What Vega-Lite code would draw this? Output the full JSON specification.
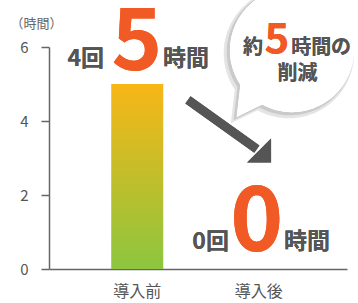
{
  "$schema": "https://vega.github.io/schema/vega-lite/v6.json",
  "width": 298,
  "height": 222,
  "autosize": {"type": "none"},
  "padding": {"left": 49, "top": 47, "right": 11, "bottom": 34},
  "background": "white",
  "config": {"view": {"stroke": null}, "font": "Noto Sans CJK JP"},
  "data": {"values": [{"period": "導入前", "hours": 5}, {"period": "導入後", "hours": 0}]},
  "layer": [
    {
      "mark": {"type": "bar", "color": {"gradient": "linear", "x1": 0, "y1": 0, "x2": 0, "y2": 1, "stops": [{"offset": 0, "color": "#F8B617"}, {"offset": 1, "color": "#8CC63F"}]}},
      "encoding": {
        "x": {"field": "period", "type": "nominal", "sort": null, "scale": {"paddingInner": 0.572, "paddingOuter": 0.512},
          "axis": {"title": null, "labelAngle": 0, "ticks": false, "domainColor": "#666", "domainWidth": 1.5, "labelColor": "#555", "labelFontSize": 16, "labelPadding": 14}},
        "y": {"field": "hours", "type": "quantitative", "scale": {"domain": [0, 6]},
          "axis": {"values": [0, 2, 4, 6], "title": "（時間）", "titleAngle": 0, "titleX": -13, "titleY": -24, "titleAlign": "center", "titleBaseline": "middle", "titleFontSize": 13, "titleFontWeight": "normal", "titleColor": "#666", "grid": false, "tickSize": 8, "tickColor": "#666", "tickWidth": 1.5, "domainColor": "#666", "domainWidth": 1.5, "labelFontSize": 15, "labelColor": "#555", "labelPadding": 13}}
      }
    },
    {
      "layer": [
        {
          "mark": {"type": "point", "shape": "M -0.48 0.88 L -0.89 1.08 L -0.83 0.56 A 1 1 0 1 1 -0.48 0.88 Z", "filled": true, "color": "#888", "opacity": 0.12, "size": 17000},
          "encoding": {"x": {"datum": 6.44, "type": "quantitative", "scale": {"domain": [0, 8]}, "axis": null}, "y": {"datum": 5.84, "type": "quantitative"}}
        },
        {
          "mark": {"type": "point", "shape": "M -0.48 0.88 L -0.89 1.08 L -0.83 0.56 A 1 1 0 1 1 -0.48 0.88 Z", "filled": true, "color": "#888", "opacity": 0.15, "size": 16000},
          "encoding": {"x": {"datum": 6.47, "type": "quantitative", "scale": {"domain": [0, 8]}, "axis": null}, "y": {"datum": 5.87, "type": "quantitative"}}
        },
        {
          "mark": {"type": "point", "shape": "M -0.48 0.88 L -0.89 1.08 L -0.83 0.56 A 1 1 0 1 1 -0.48 0.88 Z", "filled": true, "color": "white", "opacity": 1, "size": 15376},
          "encoding": {"x": {"datum": 6.52, "type": "quantitative", "scale": {"domain": [0, 8]}, "axis": null}, "y": {"datum": 5.92, "type": "quantitative"}}
        },
        {
          "mark": {"type": "rule", "color": "#555", "strokeWidth": 9, "strokeCap": "butt"},
          "encoding": {"x": {"datum": 3.73, "type": "quantitative", "scale": {"domain": [0, 8]}, "axis": null}, "x2": {"datum": 5.58}, "y": {"datum": 4.57, "type": "quantitative"}, "y2": {"datum": 3.24}}
        },
        {
          "mark": {"type": "point", "shape": "M 1 1 L -1 1 L 1 -1 Z", "filled": true, "color": "#555", "opacity": 1, "size": 576},
          "encoding": {"x": {"datum": 5.64, "type": "quantitative", "scale": {"domain": [0, 8]}, "axis": null}, "y": {"datum": 3.2, "type": "quantitative"}}
        },
        {
          "mark": {"type": "text", "text": "4回", "align": "right", "baseline": "alphabetic", "fontSize": 23, "fontWeight": "bold", "color": "#555"},
          "encoding": {"x": {"datum": 1.48, "type": "quantitative", "scale": {"domain": [0, 8]}, "axis": null}, "y": {"datum": 5.49, "type": "quantitative"}}
        },
        {
          "mark": {"type": "text", "text": "5", "align": "center", "baseline": "alphabetic", "fontSize": 86, "fontWeight": "bold", "color": "#F15A24"},
          "encoding": {"x": {"datum": 2.36, "type": "quantitative", "scale": {"domain": [0, 8]}, "axis": null}, "y": {"datum": 5.38, "type": "quantitative"}}
        },
        {
          "mark": {"type": "text", "text": "時間", "align": "left", "baseline": "alphabetic", "fontSize": 23, "fontWeight": "bold", "color": "#555"},
          "encoding": {"x": {"datum": 3.06, "type": "quantitative", "scale": {"domain": [0, 8]}, "axis": null}, "y": {"datum": 5.49, "type": "quantitative"}}
        },
        {
          "mark": {"type": "text", "text": "0回", "align": "right", "baseline": "alphabetic", "fontSize": 23, "fontWeight": "bold", "color": "#555"},
          "encoding": {"x": {"datum": 4.83, "type": "quantitative", "scale": {"domain": [0, 8]}, "axis": null}, "y": {"datum": 0.54, "type": "quantitative"}}
        },
        {
          "mark": {"type": "text", "text": "0", "align": "center", "baseline": "alphabetic", "fontSize": 90, "fontWeight": "bold", "color": "#F15A24"},
          "encoding": {"x": {"datum": 5.58, "type": "quantitative", "scale": {"domain": [0, 8]}, "axis": null}, "y": {"datum": 0.5, "type": "quantitative"}}
        },
        {
          "mark": {"type": "text", "text": "時間", "align": "left", "baseline": "alphabetic", "fontSize": 23, "fontWeight": "bold", "color": "#555"},
          "encoding": {"x": {"datum": 6.31, "type": "quantitative", "scale": {"domain": [0, 8]}, "axis": null}, "y": {"datum": 0.54, "type": "quantitative"}}
        },
        {
          "mark": {"type": "text", "text": "約", "align": "right", "baseline": "alphabetic", "fontSize": 20, "fontWeight": "bold", "color": "#555"},
          "encoding": {"x": {"datum": 5.745, "type": "quantitative", "scale": {"domain": [0, 8]}, "axis": null}, "y": {"datum": 5.8, "type": "quantitative"}}
        },
        {
          "mark": {"type": "text", "text": "5", "align": "center", "baseline": "alphabetic", "fontSize": 42, "fontWeight": "bold", "color": "#F15A24"},
          "encoding": {"x": {"datum": 6.12, "type": "quantitative", "scale": {"domain": [0, 8]}, "axis": null}, "y": {"datum": 5.84, "type": "quantitative"}}
        },
        {
          "mark": {"type": "text", "text": "時間の", "align": "left", "baseline": "alphabetic", "fontSize": 20, "fontWeight": "bold", "color": "#555"},
          "encoding": {"x": {"datum": 6.5, "type": "quantitative", "scale": {"domain": [0, 8]}, "axis": null}, "y": {"datum": 5.8, "type": "quantitative"}}
        },
        {
          "mark": {"type": "text", "text": "削減", "align": "center", "baseline": "alphabetic", "fontSize": 20, "fontWeight": "bold", "color": "#555"},
          "encoding": {"x": {"datum": 6.67, "type": "quantitative", "scale": {"domain": [0, 8]}, "axis": null}, "y": {"datum": 5.1, "type": "quantitative"}}
        }
      ]
    }
  ],
  "resolve": {"scale": {"x": "independent"}}
}
